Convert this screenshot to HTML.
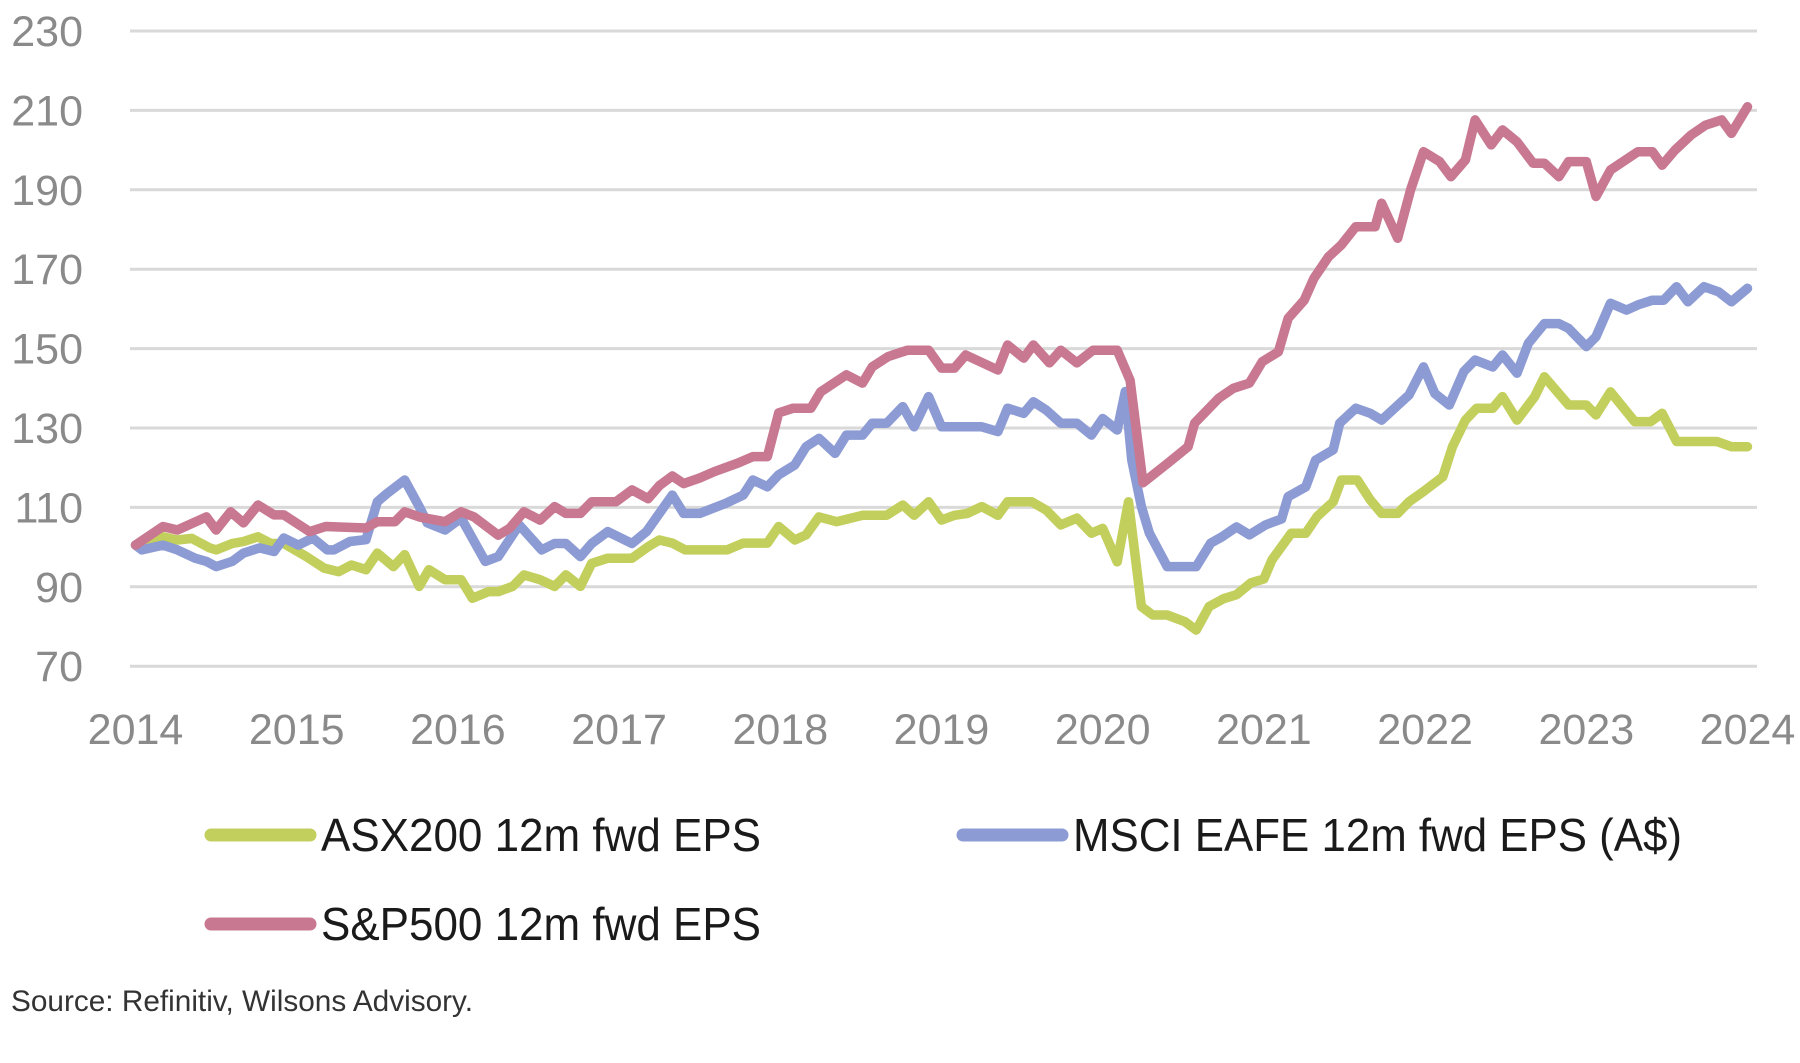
<!DOCTYPE html>
<html><head><meta charset="utf-8"><style>
html,body{margin:0;padding:0;background:#fff;}
svg{display:block;font-family:"Liberation Sans",sans-serif;}
</style></head><body>
<svg id="chart" width="1800" height="1063" viewBox="0 0 1800 1063" xmlns="http://www.w3.org/2000/svg">
<g id="grid"></g>
<g id="yaxis"></g>
<g id="xaxis"></g>
<g id="series"></g>
<g>
<g>
<line x1="211" y1="835" x2="310" y2="835" stroke="#c3cf5c" stroke-width="13" stroke-linecap="round"/>
<text x="321" y="851" font-size="46" fill="#1a1a1a" textLength="440" lengthAdjust="spacingAndGlyphs">ASX200 12m fwd EPS</text>
</g>
<g>
<line x1="963" y1="835" x2="1062" y2="835" stroke="#8c9bd4" stroke-width="13" stroke-linecap="round"/>
<text x="1073" y="851" font-size="46" fill="#1a1a1a" textLength="609" lengthAdjust="spacingAndGlyphs">MSCI EAFE 12m fwd EPS (A$)</text>
</g>
<g>
<line x1="211" y1="924" x2="310" y2="924" stroke="#c87891" stroke-width="13" stroke-linecap="round"/>
<text x="321" y="940" font-size="46" fill="#1a1a1a" textLength="440" lengthAdjust="spacingAndGlyphs">S&amp;P500 12m fwd EPS</text>
</g>
</g>
<text x="11" y="1011" font-size="30" fill="#333" textLength="462" lengthAdjust="spacingAndGlyphs">Source: Refinitiv, Wilsons Advisory.</text>
</svg>
<script>
const yTicks = [70, 90, 110, 130, 150, 170, 190, 210, 230];
const xTicks = [2014, 2015, 2016, 2017, 2018, 2019, 2020, 2021, 2022, 2023, 2024];

const asxYears = [2014.0,2014.17,2014.26,2014.35,2014.46,2014.5,2014.6,2014.67,2014.76,2014.84,2014.92,2015.06,2015.17,2015.26,2015.34,2015.43,2015.5,2015.6,2015.67,2015.76,2015.82,2015.92,2016.02,2016.09,2016.19,2016.25,2016.34,2016.41,2016.51,2016.6,2016.67,2016.76,2016.83,2016.93,2017.08,2017.18,2017.25,2017.33,2017.41,2017.67,2017.77,2017.92,2017.99,2018.09,2018.16,2018.24,2018.35,2018.51,2018.66,2018.76,2018.83,2018.92,2019.0,2019.08,2019.16,2019.25,2019.35,2019.41,2019.56,2019.65,2019.74,2019.84,2019.93,2020.0,2020.09,2020.16,2020.24,2020.31,2020.4,2020.51,2020.58,2020.66,2020.75,2020.83,2020.92,2021.0,2021.05,2021.17,2021.26,2021.33,2021.43,2021.48,2021.58,2021.66,2021.73,2021.83,2021.9,2021.99,2022.11,2022.17,2022.25,2022.32,2022.42,2022.48,2022.57,2022.68,2022.74,2022.89,2023.0,2023.06,2023.15,2023.3,2023.4,2023.47,2023.56,2023.81,2023.9,2024.0];
const asxValues = [100.5,102.6,101.8,102.2,99.8,99.3,100.9,101.4,102.6,100.9,100.9,97.6,94.7,93.8,95.5,94.3,98.5,95.1,98.1,90.1,94.3,91.8,91.8,87.1,88.8,88.8,90.1,93,91.8,90.1,93,90.1,95.9,97.2,97.2,100.1,101.8,101,99.3,99.3,101,101,105.2,101.8,103.1,107.6,106.4,108,108,110.6,108,111.4,106.8,108,108.5,110.2,108,111.4,111.4,109.3,105.6,107.3,103.5,104.7,96.3,111.4,85,82.9,82.9,81.2,79.1,85,87,88,91,92,96.8,103.5,103.5,107.7,111.4,116.9,116.9,111.9,108.5,108.5,111.4,114,117.7,125.3,132,135,135,137.9,132,137.9,142.9,135.8,135.8,133.3,139.1,131.6,131.6,133.7,126.6,126.6,125.3,125.3];

const eafeYears = [2014.0,2014.04,2014.17,2014.26,2014.37,2014.44,2014.5,2014.6,2014.67,2014.77,2014.86,2014.92,2015.01,2015.1,2015.19,2015.23,2015.33,2015.43,2015.5,2015.56,2015.67,2015.76,2015.81,2015.92,2016.02,2016.17,2016.25,2016.38,2016.52,2016.6,2016.67,2016.76,2016.83,2016.93,2017.08,2017.17,2017.33,2017.4,2017.5,2017.66,2017.77,2017.83,2017.92,2017.99,2018.09,2018.16,2018.24,2018.34,2018.41,2018.51,2018.57,2018.66,2018.76,2018.83,2018.92,2019.0,2019.25,2019.35,2019.41,2019.51,2019.57,2019.65,2019.74,2019.84,2019.93,2020.0,2020.09,2020.14,2020.18,2020.24,2020.29,2020.4,2020.58,2020.67,2020.74,2020.83,2020.91,2021.01,2021.11,2021.15,2021.26,2021.32,2021.43,2021.47,2021.57,2021.66,2021.73,2021.9,2021.99,2022.06,2022.15,2022.24,2022.31,2022.42,2022.48,2022.57,2022.64,2022.74,2022.83,2022.89,2023.0,2023.06,2023.15,2023.25,2023.32,2023.41,2023.48,2023.56,2023.63,2023.73,2023.82,2023.9,2024.0];
const eafeValues = [100.5,99.3,100.5,99.3,97.2,96.4,95.1,96.4,98.5,99.8,98.9,102.3,100.5,102.3,99.3,99.3,101.4,101.9,111.4,113.5,116.9,110.2,106.1,104.3,107.3,96.4,97.6,105.6,99.3,100.9,100.9,97.6,100.9,103.9,100.9,103.9,113.1,108.5,108.5,111,113.1,116.9,115.2,118.2,120.7,125.3,127.4,123.6,128.2,128.2,131.2,131.2,135.4,130.3,137.9,130.3,130.3,129.1,135,133.7,136.6,134.5,131.2,131.2,128.2,132.4,129.5,139.2,122,110.2,103.5,95.1,95.1,101,102.6,105.1,103.1,105.6,107.1,112.7,115.2,121.9,124.5,131.2,135,133.7,132,138.3,145.4,138.7,135.8,144.2,147.1,145.4,148.4,143.8,151.3,156.3,156.3,155.1,150.5,153,161.4,159.7,161,162.2,162.2,165.6,161.8,165.6,164.3,161.8,165.2];

const spYears = [2014.0,2014.17,2014.26,2014.44,2014.5,2014.59,2014.67,2014.76,2014.86,2014.92,2015.08,2015.18,2015.43,2015.5,2015.61,2015.67,2015.76,2015.92,2016.02,2016.1,2016.25,2016.32,2016.41,2016.51,2016.6,2016.67,2016.76,2016.83,2016.98,2017.08,2017.18,2017.25,2017.33,2017.4,2017.5,2017.59,2017.74,2017.83,2017.92,2017.99,2018.08,2018.19,2018.25,2018.41,2018.51,2018.57,2018.67,2018.79,2018.92,2019.0,2019.08,2019.15,2019.35,2019.41,2019.51,2019.57,2019.67,2019.74,2019.84,2019.94,2020.09,2020.17,2020.25,2020.4,2020.53,2020.57,2020.72,2020.81,2020.91,2020.99,2021.09,2021.15,2021.25,2021.31,2021.4,2021.48,2021.57,2021.69,2021.73,2021.83,2021.91,2021.99,2022.09,2022.16,2022.25,2022.31,2022.41,2022.48,2022.57,2022.67,2022.74,2022.83,2022.89,2023.0,2023.06,2023.15,2023.32,2023.41,2023.47,2023.55,2023.65,2023.74,2023.84,2023.9,2024.0];
const spValues = [100.5,105.2,104.3,107.6,104.3,108.9,106.1,110.6,108.1,108.1,103.9,105.2,104.8,106.4,106.4,108.9,107.6,106.4,108.9,107.6,103,104.7,108.9,106.8,110.2,108.5,108.5,111.4,111.4,114.4,112.2,115.5,117.9,116,117.4,119,121.2,122.8,122.8,133.8,135,135,139.1,143.4,141.3,145.4,148,149.6,149.6,145.1,145.1,148.4,144.6,150.9,147.6,150.9,146.4,149.6,146.4,149.6,149.6,142,116.2,121,125.3,131.2,137.5,140,141.3,146.7,149.2,157.6,162.2,167.7,173.1,176.1,180.7,180.7,186.6,177.8,190,199.6,197.1,193.3,197.5,207.6,201.3,205.1,202.1,196.7,196.7,193.3,197.1,197.1,188.3,195,199.6,199.6,196.2,200,203.8,206.3,207.6,204.2,210.9];

const NS = "http://www.w3.org/2000/svg";
function xScale(yr){ return 135.5 + (yr - 2014) * 161.2; }
function yScale(v){ return 31 + (230 - v) * 3.97; }

const grid = document.getElementById('grid');
const yaxis = document.getElementById('yaxis');
yTicks.forEach(t => {
  const ln = document.createElementNS(NS, 'line');
  
  
  ln.setAttribute('x1', 130); ln.setAttribute('x2', 1757);
  ln.setAttribute('y1', yScale(t)); ln.setAttribute('y2', yScale(t));
  ln.setAttribute('stroke', '#d9d9d9'); ln.setAttribute('stroke-width', '3');
  grid.appendChild(ln);
  const tx = document.createElementNS(NS, 'text');
  
  
  tx.setAttribute('x', 83); tx.setAttribute('y', yScale(t) + 15);
  tx.setAttribute('text-anchor', 'end'); tx.setAttribute('font-size', '43');
  tx.setAttribute('fill', '#8a8a8a');
  tx.textContent = t;
  yaxis.appendChild(tx);
});
const xaxis = document.getElementById('xaxis');
xTicks.forEach(t => {
  const tx = document.createElementNS(NS, 'text');
  
  
  tx.setAttribute('x', xScale(t)); tx.setAttribute('y', 744);
  tx.setAttribute('text-anchor', 'middle'); tx.setAttribute('font-size', '43');
  tx.setAttribute('fill', '#8a8a8a');
  tx.textContent = t;
  xaxis.appendChild(tx);
});
const seriesG = document.getElementById('series');
function drawLine(years, vals, color, name){
  const d = years.map((y,i) => (i ? 'L' : 'M') + xScale(y).toFixed(1) + ',' + yScale(vals[i]).toFixed(1)).join(' ');
  const p = document.createElementNS(NS, 'path');
  
  
  p.setAttribute('d', d);
  p.setAttribute('fill', 'none'); p.setAttribute('stroke', color);
  p.setAttribute('stroke-width', '9.5');
  p.setAttribute('stroke-linejoin', 'round'); p.setAttribute('stroke-linecap', 'round');
  seriesG.appendChild(p);
}
drawLine(asxYears, asxValues, '#c3cf5c', 'asx200-line');
drawLine(eafeYears, eafeValues, '#8c9bd4', 'msci-eafe-line');
drawLine(spYears, spValues, '#c87891', 'sp500-line');
</script>
</body></html>
